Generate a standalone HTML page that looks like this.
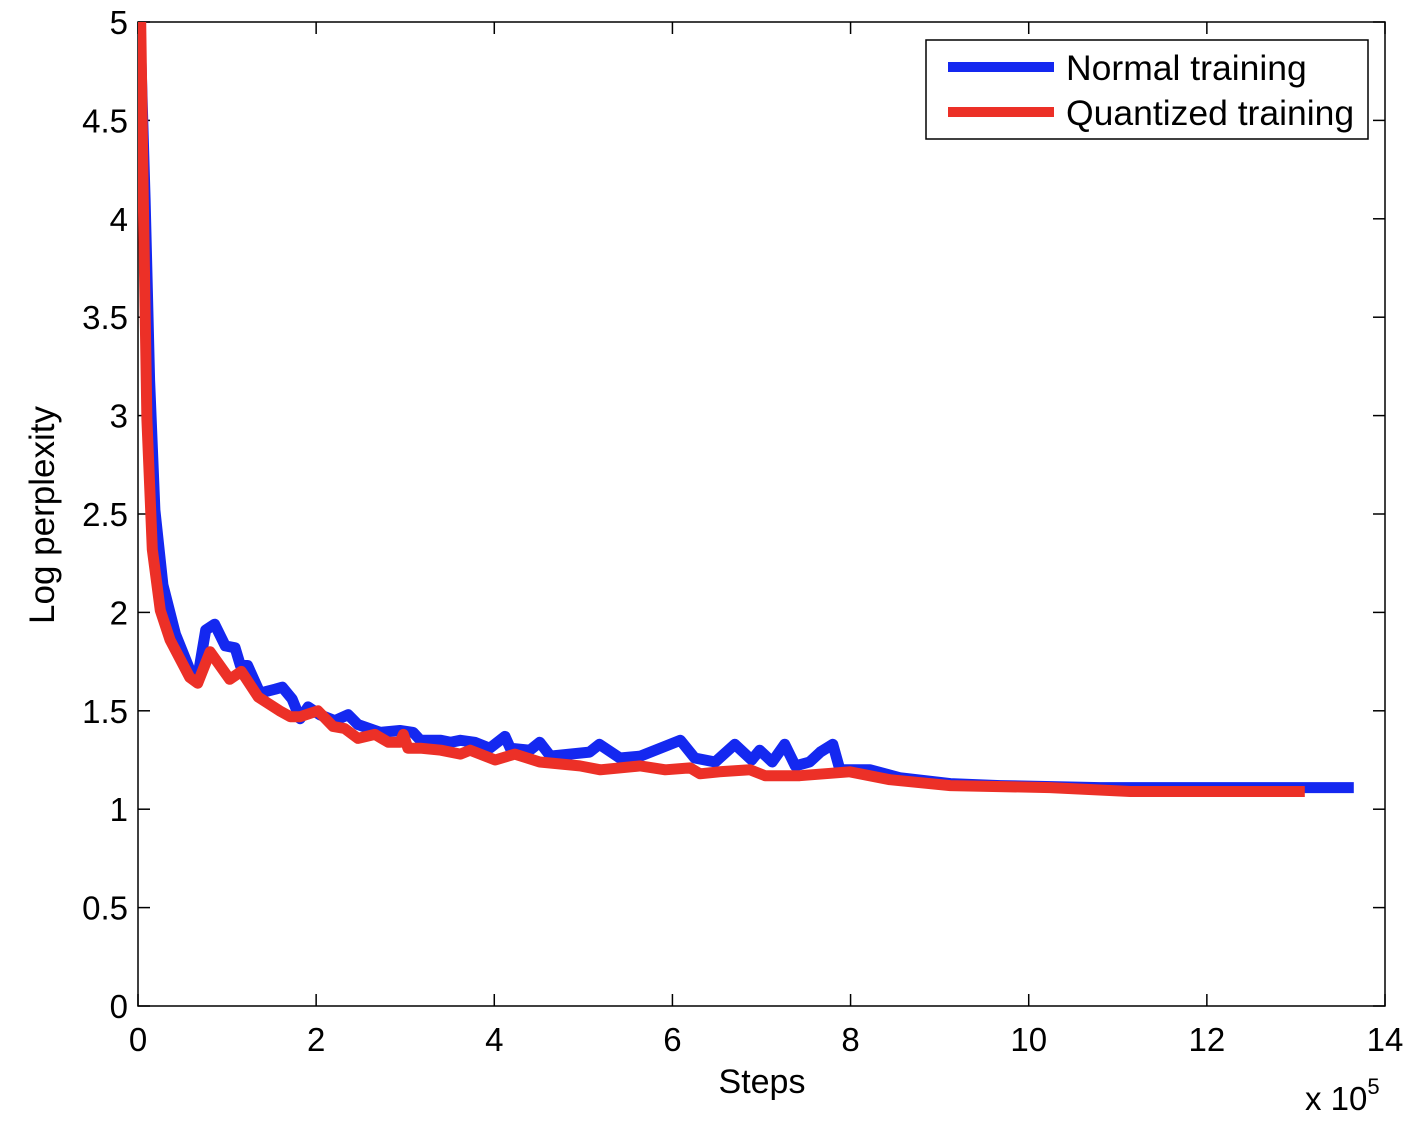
<!DOCTYPE html>
<html><head><meta charset="utf-8"><style>
html,body{margin:0;padding:0;background:#fff;}
svg{display:block;font-family:"Liberation Sans",Arial,sans-serif;}
</style></head><body>
<svg id="chart" width="1418" height="1125">
<g id="plot"></g>
</svg>
<script>
const xTicks=[0,2,4,6,8,10,12,14];
const yTicks=[0,0.5,1,1.5,2,2.5,3,3.5,4,4.5,5];
const yTickLabels=["0","0.5","1","1.5","2","2.5","3","3.5","4","4.5","5"];
const normalX=[0.02,0.08,0.13,0.19,0.28,0.42,0.58,0.67,0.76,0.86,0.98,1.09,1.15,1.23,1.37,1.54,1.62,1.73,1.82,1.91,2.04,2.21,2.36,2.47,2.72,2.94,3.09,3.17,3.40,3.51,3.62,3.78,3.95,4.12,4.18,4.40,4.51,4.63,5.07,5.18,5.41,5.64,6.09,6.25,6.48,6.70,6.89,6.98,7.12,7.26,7.38,7.54,7.66,7.80,7.88,8.05,8.22,8.55,9.12,9.68,10.8,11.9,12.4,13.05,13.65];
const normalY=[5.0,4.1,3.18,2.52,2.14,1.89,1.71,1.67,1.91,1.94,1.83,1.82,1.73,1.73,1.59,1.61,1.62,1.56,1.46,1.52,1.48,1.45,1.48,1.43,1.39,1.40,1.39,1.35,1.35,1.34,1.35,1.34,1.31,1.37,1.31,1.30,1.34,1.27,1.29,1.33,1.26,1.27,1.35,1.26,1.24,1.33,1.25,1.30,1.24,1.33,1.22,1.24,1.29,1.33,1.20,1.20,1.20,1.16,1.13,1.12,1.11,1.11,1.11,1.11,1.11];
const quantX=[0.03,0.06,0.10,0.16,0.25,0.36,0.58,0.67,0.81,1.03,1.16,1.35,1.59,1.71,1.82,2.02,2.19,2.32,2.47,2.66,2.81,2.94,2.98,3.03,3.17,3.40,3.62,3.73,4.01,4.23,4.51,4.96,5.19,5.64,5.92,6.20,6.31,6.53,6.87,7.04,7.43,7.99,8.44,9.12,10.24,11.14,11.92,13.10];
const quantY=[5.0,4.1,2.98,2.32,2.01,1.86,1.67,1.64,1.80,1.66,1.70,1.57,1.50,1.47,1.47,1.50,1.42,1.41,1.36,1.38,1.34,1.34,1.38,1.31,1.31,1.30,1.28,1.30,1.25,1.28,1.24,1.22,1.20,1.22,1.20,1.21,1.18,1.19,1.20,1.17,1.17,1.19,1.15,1.12,1.11,1.09,1.09,1.09];

const L=138,R=1385,T=22,B=1006;
const sx=v=>L+(v-0)/(14-0)*(R-L);
const sy=v=>B-(v-0)/(5-0)*(B-T);
const NS="http://www.w3.org/2000/svg";
const g=document.getElementById('plot');
function mk(tag,attrs,parent){const e=document.createElementNS(NS,tag);for(const k in attrs)e.setAttribute(k,attrs[k]);(parent||g).appendChild(e);return e;}

const defs=mk('defs',{});
const cp=mk('clipPath',{id:'clip'},defs);
mk('rect',{x:L,y:T,width:R-L,height:B-T},cp);

const box=mk('rect',{x:L,y:T,width:R-L,height:B-T,fill:'none',stroke:'#000','stroke-width':1.5});



xTicks.forEach((t,i)=>{
  const x=sx(t);
  mk('line',{x1:x,y1:B,x2:x,y2:B-12,stroke:'#000','stroke-width':1.5});
  mk('line',{x1:x,y1:T,x2:x,y2:T+12,stroke:'#000','stroke-width':1.5});
  const tx=mk('text',{x:x,y:B+45,'text-anchor':'middle','font-size':33});
  tx.textContent=String(t);
  
  
});
yTicks.forEach((t,i)=>{
  const y=sy(t);
  mk('line',{x1:L,y1:y,x2:L+12,y2:y,stroke:'#000','stroke-width':1.5});
  mk('line',{x1:R,y1:y,x2:R-12,y2:y,stroke:'#000','stroke-width':1.5});
  const tx=mk('text',{x:L-10,y:y+12,'text-anchor':'end','font-size':33});
  tx.textContent=yTickLabels[i];
  
  
});

function series(xs,ys,color,name){
  const d=xs.map((x,i)=>(i?'L':'M')+sx(x).toFixed(1)+','+sy(ys[i]).toFixed(1)).join(' ');
  const p=mk('path',{d:d,fill:'none',stroke:color,'stroke-width':11,'stroke-linejoin':'round','clip-path':'url(#clip)'});
  
  
}
series(normalX,normalY,'#1428f0','normal-training-line');
series(quantX,quantY,'#ec3027','quantized-training-line');

const xt=mk('text',{x:762,y:1093,'text-anchor':'middle','font-size':34});
xt.textContent='Steps';


const xe=mk('text',{x:1305,y:1110,'font-size':33});
xe.innerHTML='x 10<tspan dy="-16" font-size="22">5</tspan>';


const yt=mk('text',{x:0,y:0,'text-anchor':'middle','font-size':35,transform:'translate(54,515) rotate(-90)'});
yt.textContent='Log perplexity';



const lg=mk('g',{});


mk('rect',{x:926,y:40,width:442,height:99,fill:'#fff',stroke:'#000','stroke-width':1.5},lg);
mk('line',{x1:948,y1:67,x2:1054,y2:67,stroke:'#1428f0','stroke-width':10},lg);
mk('line',{x1:948,y1:112,x2:1054,y2:112,stroke:'#ec3027','stroke-width':10},lg);
const l1=mk('text',{x:1066,y:80,'font-size':35.5},lg);l1.textContent='Normal training';


const l2=mk('text',{x:1066,y:125,'font-size':35.5},lg);l2.textContent='Quantized training';


</script>
</body></html>
